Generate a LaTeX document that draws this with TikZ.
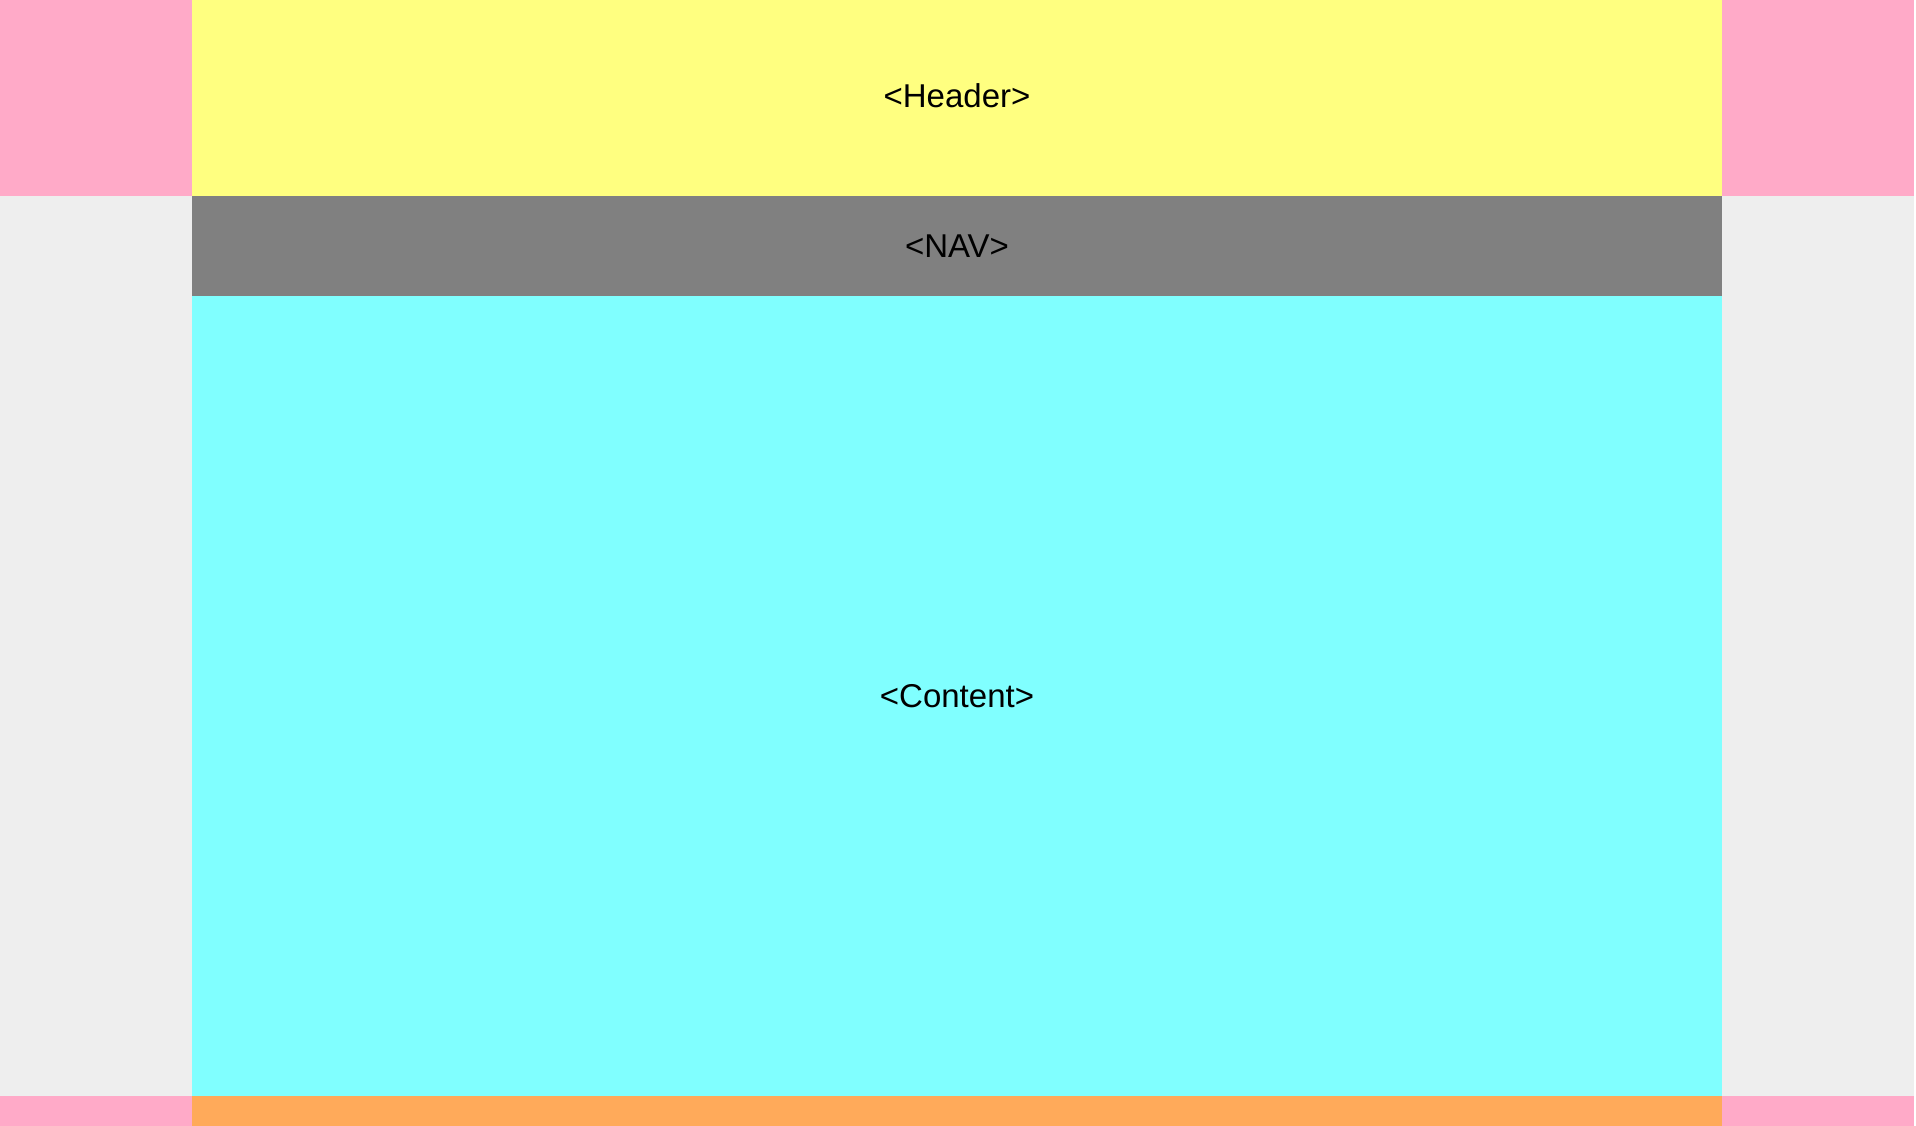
\documentclass[tikz,border=0pt]{standalone}
\usepackage{fontspec}
\setmainfont{Liberation Sans}
\definecolor{pinkc}{HTML}{FFAAC8}
\definecolor{yellowc}{HTML}{FFFF80}
\definecolor{grayc}{HTML}{808080}
\definecolor{cyanc}{HTML}{80FFFF}
\definecolor{orangec}{HTML}{FFAA5A}
\definecolor{bgc}{HTML}{EEEEEE}
\tikzset{
  lbl/.style={anchor=base, inner sep=0pt, font=\fontsize{33}{38}\selectfont, text=black}
}
\begin{document}
\begin{tikzpicture}[x=1pt,y=-1pt]
\useasboundingbox (0,0) rectangle (1916,1126);
\fill[white] (0,0) rectangle (1916,1126);
\fill[bgc] (0,196) rectangle (1914,1096);
\fill[pinkc] (0,0) rectangle (192,196);
\fill[pinkc] (1722,0) rectangle (1914,196);
\fill[pinkc] (0,1096) rectangle (192,1126);
\fill[pinkc] (1722,1096) rectangle (1914,1126);
\fill[yellowc] (192,0) rectangle (1722,196);
\fill[grayc] (192,196) rectangle (1722,296);
\fill[cyanc] (192,296) rectangle (1722,1096);
\fill[orangec] (192,1096) rectangle (1722,1126);
\node[lbl] (header) at (957,107.5) {<Header>};
\node[lbl] (nav) at (957,257.5) {<NAV>};
\node[lbl] (content) at (957,707.5) {<Content>};
\end{tikzpicture}
\end{document}
